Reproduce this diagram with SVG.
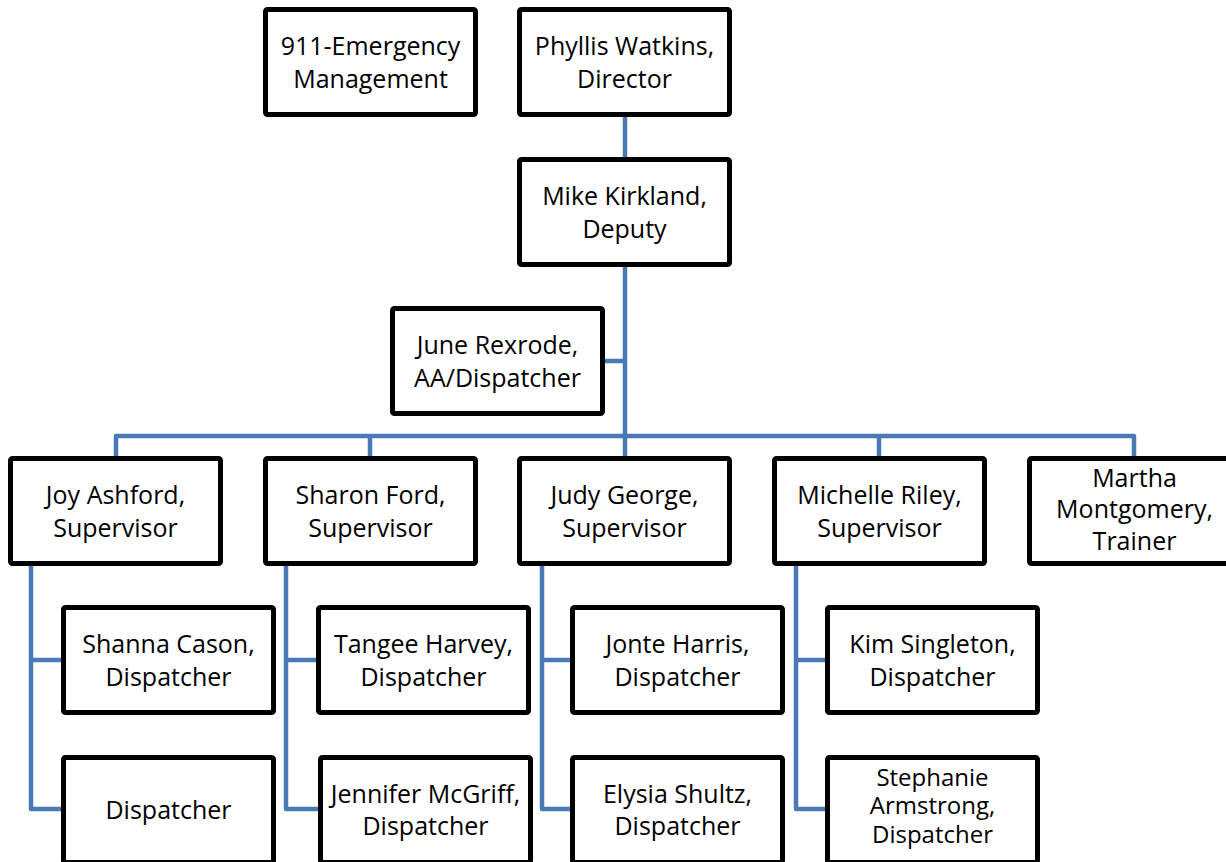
<svg xmlns="http://www.w3.org/2000/svg" width="1226" height="862" viewBox="0 0 1226 862">
<style>
.box{fill:#ffffff;stroke:#000000;stroke-width:5;}
.lbl{font-family:"Open Sans","Noto Sans",sans-serif;font-size:25px;fill:#000000;text-anchor:middle;}
.lbl.sm{font-size:24px;}
.conn{fill:none;stroke:#4a7ab5;stroke-width:4.5;stroke-linejoin:round;stroke-linecap:butt;}
</style>
<rect width="1226" height="862" fill="#ffffff"/>
<g id="connectors">
<path class="conn" d="M625,117 V157"/>
<path class="conn" d="M625,267 V456"/>
<path class="conn" d="M605,361 H625"/>
<path class="conn" d="M116,456 V436 H1134 V456"/>
<path class="conn" d="M370,436 V456"/>
<path class="conn" d="M879,436 V456"/>
<path class="conn" d="M61,660 H31 M31,566 V809 H61"/>
<path class="conn" d="M316,660 H286 M286,566 V809 H318"/>
<path class="conn" d="M570,660 H542 M542,566 V809 H570"/>
<path class="conn" d="M825,660 H796 M796,566 V809 H825"/>
</g>
<g id="n911"><rect class="box" x="265.5" y="9.5" width="210" height="105" rx="2"/><text class="lbl" x="370.5" y="54.5">911-Emergency</text><text class="lbl" x="370.5" y="87.5">Management</text></g>
<g id="phyllis"><rect class="box" x="519.5" y="9.5" width="210" height="105" rx="2"/><text class="lbl" x="624.5" y="54.5">Phyllis Watkins,</text><text class="lbl" x="624.5" y="87.5">Director</text></g>
<g id="mike"><rect class="box" x="519.5" y="159.5" width="210" height="105" rx="2"/><text class="lbl" x="624.5" y="204.5">Mike Kirkland,</text><text class="lbl" x="624.5" y="237.5">Deputy</text></g>
<g id="june"><rect class="box" x="392.5" y="308.5" width="210" height="105" rx="2"/><text class="lbl" x="497.5" y="353.5">June Rexrode,</text><text class="lbl" x="497.5" y="386.5">AA/Dispatcher</text></g>
<g id="joy"><rect class="box" x="10.5" y="458.5" width="210" height="105" rx="2"/><text class="lbl" x="115.5" y="503.5">Joy Ashford,</text><text class="lbl" x="115.5" y="536.5">Supervisor</text></g>
<g id="sharon"><rect class="box" x="265.5" y="458.5" width="210" height="105" rx="2"/><text class="lbl" x="370.5" y="503.5">Sharon Ford,</text><text class="lbl" x="370.5" y="536.5">Supervisor</text></g>
<g id="judy"><rect class="box" x="519.5" y="458.5" width="210" height="105" rx="2"/><text class="lbl" x="624.5" y="503.5">Judy George,</text><text class="lbl" x="624.5" y="536.5">Supervisor</text></g>
<g id="michelle"><rect class="box" x="774.5" y="458.5" width="210" height="105" rx="2"/><text class="lbl" x="879.5" y="503.5">Michelle Riley,</text><text class="lbl" x="879.5" y="536.5">Supervisor</text></g>
<g id="martha"><rect class="box" x="1029.5" y="458.5" width="210" height="105" rx="2"/><text class="lbl" x="1134.5" y="486.5">Martha</text><text class="lbl" x="1134.5" y="518">Montgomery,</text><text class="lbl" x="1134.5" y="549.5">Trainer</text></g>
<g id="shanna"><rect class="box" x="63.5" y="607.5" width="210" height="105" rx="2"/><text class="lbl" x="168.5" y="652.5">Shanna Cason,</text><text class="lbl" x="168.5" y="685.5">Dispatcher</text></g>
<g id="tangee"><rect class="box" x="318.5" y="607.5" width="210" height="105" rx="2"/><text class="lbl" x="423.5" y="652.5">Tangee Harvey,</text><text class="lbl" x="423.5" y="685.5">Dispatcher</text></g>
<g id="jonte"><rect class="box" x="572.5" y="607.5" width="210" height="105" rx="2"/><text class="lbl" x="677.5" y="652.5">Jonte Harris,</text><text class="lbl" x="677.5" y="685.5">Dispatcher</text></g>
<g id="kim"><rect class="box" x="827.5" y="607.5" width="210" height="105" rx="2"/><text class="lbl" x="932.5" y="652.5">Kim Singleton,</text><text class="lbl" x="932.5" y="685.5">Dispatcher</text></g>
<g id="dispatcher"><rect class="box" x="63.5" y="757.5" width="210" height="105" rx="2"/><text class="lbl" x="168.5" y="818.5">Dispatcher</text></g>
<g id="jennifer"><rect class="box" x="320.5" y="757.5" width="210" height="105" rx="2"/><text class="lbl" x="425.5" y="802.5">Jennifer McGriff,</text><text class="lbl" x="425.5" y="835">Dispatcher</text></g>
<g id="elysia"><rect class="box" x="572.5" y="757.5" width="210" height="105" rx="2"/><text class="lbl" x="677.5" y="802.5">Elysia Shultz,</text><text class="lbl" x="677.5" y="835">Dispatcher</text></g>
<g id="stephanie"><rect class="box" x="827.5" y="757.5" width="210" height="105" rx="2"/><text class="lbl sm" x="932.5" y="785.5">Stephanie</text><text class="lbl sm" x="932.5" y="814">Armstrong,</text><text class="lbl sm" x="932.5" y="842.5">Dispatcher</text></g>
</svg>
